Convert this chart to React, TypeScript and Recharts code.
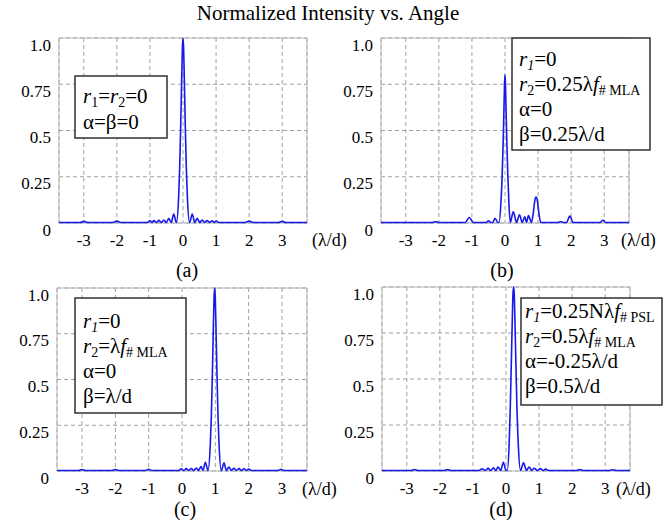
import React from 'react';
import { LineChart, Line, XAxis, YAxis, CartesianGrid, ReferenceArea } from 'recharts';

const FONT = '"Liberation Serif", "DejaVu Serif", "Times New Roman", Tinos, serif';

const xTicks = [-3, -2, -1, 0, 1, 2, 3];
const yTicks = [0, 0.25, 0.5, 0.75, 1];
const yTickLabels = ['0', '0.25', '0.5', '0.75', '1.0'];
const xDomain: [number, number] = [-3.75, 3.75];

const title = 'Normalized Intensity vs. Angle';
const axisUnit = '(λ/d)';
const subLabels = ['(a)', '(b)', '(c)', '(d)'];

// (a) r1=r2=0, α=β=0
const aX = [-3.75, -3.12, -3.0, -2.88, -2.12, -2.0, -1.88, -1.08, -1.0, -0.94, -0.88, -0.81, -0.73, -0.655, -0.58, -0.505, -0.43, -0.355, -0.28, -0.2, -0.13, -0.1, -0.07, -0.04, -0.018, 0, 0.018, 0.04, 0.07, 0.1, 0.13, 0.2, 0.28, 0.355, 0.43, 0.505, 0.58, 0.655, 0.73, 0.81, 0.88, 0.94, 1.0, 1.08, 1.88, 2.0, 2.12, 2.88, 3.0, 3.12, 3.75];
const aY = [0.003, 0.003, 0.009, 0.003, 0.003, 0.01, 0.003, 0.003, 0.012, 0.003, 0.013, 0.003, 0.014, 0.003, 0.016, 0.003, 0.024, 0.003, 0.048, 0.002, 0.15, 0.3, 0.52, 0.78, 0.95, 1.0, 0.95, 0.78, 0.52, 0.3, 0.15, 0.002, 0.048, 0.003, 0.025, 0.003, 0.016, 0.003, 0.013, 0.003, 0.012, 0.003, 0.011, 0.003, 0.003, 0.01, 0.003, 0.003, 0.009, 0.003, 0.003];

// (b) r1=0, r2=0.25λf, α=0, β=0.25λ/d
const bX = [-3.75, -2.2, -2.1, -2.0, -1.2, -1.08, -0.96, -0.56, -0.5, -0.44, -0.37, -0.3, -0.22, -0.18, -0.12, -0.085, -0.055, -0.03, -0.012, 0, 0.012, 0.03, 0.055, 0.085, 0.12, 0.16, 0.25, 0.35, 0.44, 0.52, 0.6, 0.65, 0.71, 0.8, 0.86, 0.9, 0.94, 0.98, 1.02, 1.08, 1.6, 1.68, 1.76, 1.86, 1.96, 2.06, 2.88, 2.96, 3.05, 3.75];
const bY = [0.003, 0.003, 0.007, 0.003, 0.003, 0.03, 0.003, 0.003, 0.012, 0.003, 0.003, 0.026, 0.003, 0.003, 0.12, 0.26, 0.44, 0.63, 0.76, 0.8, 0.76, 0.63, 0.44, 0.26, 0.1, 0.003, 0.06, 0.003, 0.045, 0.003, 0.033, 0.003, 0.04, 0.003, 0.06, 0.12, 0.14, 0.12, 0.06, 0.003, 0.003, 0.007, 0.003, 0.003, 0.037, 0.003, 0.003, 0.015, 0.003, 0.003];

// (c) r1=0, r2=λf, α=0, β=λ/d
const cX = [-3.75, -3.1, -3.0, -2.9, -2.1, -2.0, -1.9, -1.1, -1.0, -0.9, -0.1, -0.02, 0.05, 0.13, 0.2, 0.28, 0.35, 0.43, 0.5, 0.57, 0.63, 0.7, 0.78, 0.85, 0.88, 0.91, 0.94, 0.962, 0.98, 0.998, 1.02, 1.05, 1.08, 1.11, 1.18, 1.26, 1.33, 1.41, 1.48, 1.56, 1.63, 1.71, 1.78, 1.86, 1.93, 2.0, 2.08, 2.88, 2.97, 3.06, 3.75];
const cY = [0.003, 0.003, 0.008, 0.003, 0.003, 0.008, 0.003, 0.003, 0.009, 0.003, 0.003, 0.012, 0.003, 0.013, 0.003, 0.014, 0.003, 0.016, 0.003, 0.024, 0.003, 0.048, 0.002, 0.15, 0.3, 0.52, 0.78, 0.95, 1.0, 0.95, 0.78, 0.52, 0.3, 0.15, 0.002, 0.045, 0.003, 0.022, 0.003, 0.015, 0.003, 0.013, 0.003, 0.012, 0.003, 0.011, 0.003, 0.003, 0.009, 0.003, 0.003];

// (d) r1=0.25Nλf, r2=0.5λf, α=-0.25λ/d, β=0.5λ/d
const dX = [-3.75, -2.87, -2.77, -2.67, -1.87, -1.77, -1.67, -0.82, -0.72, -0.63, -0.54, -0.46, -0.38, -0.31, -0.24, -0.16, -0.08, 0.0, 0.04, 0.1, 0.13, 0.16, 0.19, 0.21, 0.23, 0.25, 0.27, 0.3, 0.33, 0.37, 0.44, 0.53, 0.62, 0.7, 0.78, 0.85, 0.95, 1.04, 1.12, 1.2, 1.28, 2.13, 2.23, 2.33, 3.13, 3.23, 3.33, 3.75];
const dY = [0.003, 0.003, 0.008, 0.003, 0.003, 0.008, 0.003, 0.003, 0.012, 0.003, 0.014, 0.003, 0.017, 0.003, 0.022, 0.003, 0.047, 0.003, 0.003, 0.17, 0.35, 0.58, 0.82, 0.96, 1.0, 0.96, 0.82, 0.58, 0.35, 0.15, 0.003, 0.045, 0.003, 0.022, 0.003, 0.015, 0.003, 0.013, 0.003, 0.01, 0.003, 0.003, 0.008, 0.003, 0.003, 0.007, 0.003, 0.003];

type Seg = { t: string; i?: boolean; s?: boolean };

const legendA: Seg[][] = [
  [{ t: 'r', i: true }, { t: '1', s: true }, { t: '=' }, { t: 'r', i: true }, { t: '2', s: true }, { t: '=0' }],
  [{ t: 'α=β=0' }],
];
const legendB: Seg[][] = [
  [{ t: 'r', i: true }, { t: '1', s: true, i: true }, { t: '=0' }],
  [{ t: 'r', i: true }, { t: '2', s: true }, { t: '=0.25λ' }, { t: 'f', i: true }, { t: '# MLA', s: true }],
  [{ t: 'α=0' }],
  [{ t: 'β=0.25λ/d' }],
];
const legendC: Seg[][] = [
  [{ t: 'r', i: true }, { t: '1', s: true, i: true }, { t: '=0' }],
  [{ t: 'r', i: true }, { t: '2', s: true }, { t: '=λ' }, { t: 'f', i: true }, { t: '# MLA', s: true }],
  [{ t: 'α=0' }],
  [{ t: 'β=λ/d' }],
];
const legendD: Seg[][] = [
  [{ t: 'r', i: true }, { t: '1', s: true, i: true }, { t: '=0.25Nλ' }, { t: 'f', i: true }, { t: '# PSL', s: true }],
  [{ t: 'r', i: true }, { t: '2', s: true }, { t: '=0.5λ' }, { t: 'f', i: true }, { t: '# MLA', s: true }],
  [{ t: 'α=-0.25λ/d' }],
  [{ t: 'β=0.5λ/d' }],
];

const toData = (xs: number[], ys: number[]) => xs.map((x, i) => ({ x, y: ys[i] }));

const XTick = (props: any) => {
  const { x, y, payload } = props;
  return (
    <text x={x} y={y + 23} textAnchor="middle" style={{ fontFamily: FONT }} fontSize={17} fill="#000">
      {String(payload.value)}
    </text>
  );
};

const YTick = (props: any) => {
  const { x, y, payload } = props;
  const idx = yTicks.indexOf(payload.value);
  return (
    <text x={x - 8} y={y + 12.5} textAnchor="end" style={{ fontFamily: FONT }} fontSize={17} fill="#000">
      {idx >= 0 ? yTickLabels[idx] : String(payload.value)}
    </text>
  );
};

type PanelCfg = {
  left: number; top: number; w: number; h: number;
  ml: number; mr: number; mt: number; xh: number;
  xs: number[]; ys: number[];
};

const Panel = ({ cfg }: { cfg: PanelCfg }) => {
  const data = toData(cfg.xs, cfg.ys);
  return (
    <div style={{ position: 'absolute', left: cfg.left, top: cfg.top, width: cfg.w, height: cfg.h }}>
      <LineChart width={cfg.w} height={cfg.h} data={data} margin={{ top: cfg.mt, right: cfg.mr, bottom: 0, left: 0 }}>
        <CartesianGrid stroke="#a0a0a0" strokeDasharray="4 3" strokeWidth={1} />
        <XAxis dataKey="x" type="number" domain={xDomain} ticks={xTicks} interval={0} height={cfg.xh}
          tickLine={false} axisLine={false} tickSize={0} tickMargin={0} tick={XTick} />
        <YAxis type="number" domain={[0, 1]} ticks={yTicks} interval={0} width={cfg.ml}
          tickLine={false} axisLine={false} tickSize={0} tickMargin={0} tick={YTick} />
        <ReferenceArea x1={xDomain[0]} x2={xDomain[1]} y1={0} y2={1} fill="none" fillOpacity={0} stroke="#b8b8b8" strokeWidth={1} />
        <Line type="monotone" dataKey="y" stroke="#1818e8" strokeWidth={1.6} dot={false} isAnimationActive={false} />
      </LineChart>
    </div>
  );
};

const LegendBox = ({ x, y, w, h, tx, base, step, lines }: { x: number; y: number; w: number; h: number; tx: number; base: number; step: number; lines: Seg[][] }) => (
  <g>
    <rect x={x} y={y} width={w} height={h} fill="#fff" stroke="#222" strokeWidth={1.4} />
    {lines.map((segs, li) => {
      let prevSub = false;
      return (
        <text key={li} x={tx} y={base + li * step} style={{ fontFamily: FONT }} fontSize={21} fill="#000">
          {segs.map((sg, k) => {
            let dy = 0;
            if (sg.s && !prevSub) dy = 4;
            else if (!sg.s && prevSub) dy = -4;
            prevSub = !!sg.s;
            return (
              <tspan key={k} dy={dy} fontStyle={sg.i ? 'italic' : 'normal'} fontSize={sg.s ? 14 : 21}>
                {sg.t}
              </tspan>
            );
          })}
        </text>
      );
    })}
  </g>
);

const panels: PanelCfg[] = [
  { left: 0, top: 30, w: 334, h: 230, ml: 59, mr: 27, mt: 8, xh: 37, xs: aX, ys: aY },
  { left: 334, top: 30, w: 334, h: 230, ml: 47, mr: 39, mt: 8, xh: 37, xs: bX, ys: bY },
  { left: 0, top: 280, w: 334, h: 230, ml: 57, mr: 27, mt: 8, xh: 39, xs: cX, ys: cY },
  { left: 334, top: 280, w: 334, h: 230, ml: 48, mr: 38, mt: 7, xh: 39, xs: dX, ys: dY },
];

const T = (p: any) => <text style={{ fontFamily: FONT }} fill="#000" {...p} />;

export default function App() {
  return (
    <div style={{ position: 'absolute', left: 0, top: 0, width: 668, height: 520, background: '#fff', overflow: 'hidden', fontFamily: FONT }}>
      {panels.map((p, i) => <Panel key={i} cfg={p} />)}
      <svg width={668} height={520} style={{ position: 'absolute', left: 0, top: 0, pointerEvents: 'none' }}>
        <T x={328} y={20} textAnchor="middle" fontSize={21}>{title}</T>
        <T x={187} y={277} textAnchor="middle" fontSize={20}>{subLabels[0]}</T>
        <T x={502} y={277} textAnchor="middle" fontSize={20}>{subLabels[1]}</T>
        <T x={185} y={516} textAnchor="middle" fontSize={20}>{subLabels[2]}</T>
        <T x={501} y={516} textAnchor="middle" fontSize={20}>{subLabels[3]}</T>
        <T x={312} y={246} fontSize={18}>{axisUnit}</T>
        <T x={621} y={246} fontSize={18}>{axisUnit}</T>
        <T x={302} y={495} fontSize={18}>{axisUnit}</T>
        <T x={616} y={495} fontSize={18}>{axisUnit}</T>
        <LegendBox x={75} y={76} w={92} h={62} tx={83} base={103} step={26} lines={legendA} />
        <LegendBox x={512} y={38} w={138} h={112} tx={519} base={66} step={25} lines={legendB} />
        <LegendBox x={75} y={298} w={111} h={115} tx={83} base={328} step={25} lines={legendC} />
        <LegendBox x={521} y={298} w={141} h={107} tx={525} base={318} step={25} lines={legendD} />
      </svg>
    </div>
  );
}
